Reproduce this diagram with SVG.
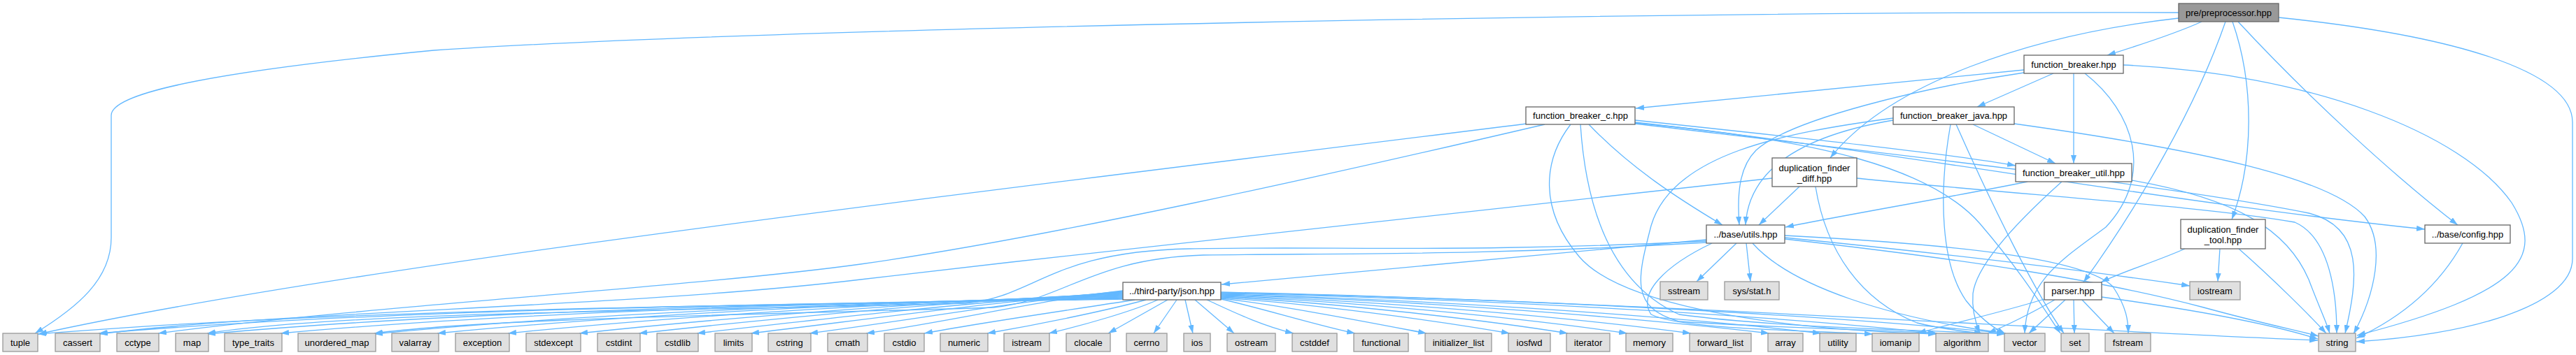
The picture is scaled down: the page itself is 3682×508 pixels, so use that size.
<svg xmlns="http://www.w3.org/2000/svg" width="3682" height="508" viewBox="0 0 3682 508">
<style>
.e{fill:none;stroke:#63b8ff;stroke-width:1.3;marker-end:url(#a)}
.n rect{fill:#ffffff;stroke:#666666;stroke-width:1.3}
.l rect{fill:#e0e0e0;stroke:#999999;stroke-width:1.3}
.r rect{fill:#999999;stroke:#666666;stroke-width:1.3}
text{font-family:"Liberation Sans",Arial,Helvetica,sans-serif;font-size:13px;fill:#000;text-anchor:middle}
</style>
<defs>
<marker id="a" viewBox="0 0 12 8" refX="12" refY="4" markerWidth="12" markerHeight="8" markerUnits="userSpaceOnUse" orient="auto"><path d="M0,0L12,4L0,8z" fill="#63b8ff"/></marker>
</defs>
<rect width="3682" height="508" fill="#ffffff"/>
<g id="edges">
<path class="e" d="M3147,31 C3110,48 3060,64 3012,79"/>
<path class="e" d="M3114,26 C2900,50 2700,120 2616,226"/>
<path class="e" d="M3191,31 C3222,120 3222,230 3190,314"/>
<path class="e" d="M3181,31 C3140,150 3060,290 2978,404"/>
<path class="e" d="M3199,31 C3300,140 3420,250 3513,322"/>
<path class="e" d="M3257,25 C3500,50 3677,100 3677,175 L3677,370 C3677,440 3520,480 3368,489"/>
<path class="e" d="M3114,18 C2400,16 1100,40 620,72 C330,100 159,130 159,165 L159,340 C159,400 110,440 50,477"/>
<path class="e" d="M2893,100 L2338,155"/>
<path class="e" d="M2935,105 L2826,153"/>
<path class="e" d="M2964,105 L2964,234"/>
<path class="e" d="M2893,104 C2750,125 2560,170 2510,215 C2485,240 2483,280 2486,322"/>
<path class="e" d="M2980,105 C3050,160 3080,250 3010,325 C2950,370 2897,400 2894,477"/>
<path class="e" d="M3035,93 C3300,105 3520,190 3590,290 C3640,370 3600,420 3369,480"/>
<path class="e" d="M2337,172 C2600,200 2800,222 2881,237"/>
<path class="e" d="M2271,178 C2330,240 2400,285 2462,322"/>
<path class="e" d="M2337,175 C2700,215 3100,290 3466,328"/>
<path class="e" d="M2337,177 C2700,220 3100,265 3300,305 C3380,325 3370,400 3352,477"/>
<path class="e" d="M2182,177 C1400,275 500,380 55,478"/>
<path class="e" d="M2208,178 C1900,250 1500,340 1230,378 C1000,410 500,440 226,477"/>
<path class="e" d="M2245,178 C2205,230 2200,300 2257,367 C2310,430 2500,470 2768,478"/>
<path class="e" d="M2259,178 C2265,270 2290,400 2400,450 C2550,470 2750,472 2866,478"/>
<path class="e" d="M2337,176 C2600,200 2760,240 2830,320 C2890,390 2920,440 2945,477"/>
<path class="e" d="M2820,178 L2938,234"/>
<path class="e" d="M2706,172 C2600,190 2500,230 2495,322"/>
<path class="e" d="M2879,177 C3150,215 3330,255 3380,310 C3410,350 3395,420 3364,478"/>
<path class="e" d="M2706,169 C2550,190 2390,220 2360,323 C2340,400 2330,440 2400,460 C2550,470 2700,472 2768,477"/>
<path class="e" d="M2788,178 C2770,280 2775,380 2810,430 C2830,455 2850,470 2867,478"/>
<path class="e" d="M2796,178 C2850,300 2910,420 2950,477"/>
<path class="e" d="M2572,267 L2514,322"/>
<path class="e" d="M2654,255 C2900,280 3150,295 3280,318 C3330,340 3340,420 3340,477"/>
<path class="e" d="M2533,255 C2200,290 1700,345 1230,400 C900,440 400,445 142,478"/>
<path class="e" d="M2595,267 C2610,360 2660,430 2740,462 C2780,472 2815,475 2834,477"/>
<path class="e" d="M2898,260 C2800,280 2650,305 2552,325"/>
<path class="e" d="M2947,260 C2880,320 2825,380 2820,420 C2818,445 2825,465 2830,477"/>
<path class="e" d="M3047,258 C3200,285 3270,330 3300,400 C3315,440 3325,460 3330,477"/>
<path class="e" d="M2439,343 C2200,365 1900,392 1746,407"/>
<path class="e" d="M2482,348 L2425,403"/>
<path class="e" d="M2496,348 L2502,403"/>
<path class="e" d="M2551,340 C2800,365 3000,390 3130,409"/>
<path class="e" d="M2551,337 C2800,350 2980,370 3020,410 C3040,440 3042,460 3042,477"/>
<path class="e" d="M2551,342 C2800,370 3000,400 3150,440 C3230,462 3280,472 3314,481"/>
<path class="e" d="M2505,348 C2560,410 2700,455 2866,477"/>
<path class="e" d="M2447,348 C2380,380 2340,420 2360,450 C2400,470 2550,472 2677,478"/>
<path class="e" d="M2439,345 C2100,362 1900,352 1700,356 C1500,360 1480,425 1380,434 C1000,445 500,445 296,477"/>
<path class="e" d="M2439,347 C2100,367 1900,362 1720,365 C1560,370 1520,430 1420,440 C1100,450 700,455 535,477"/>
<path class="e" d="M3123,356 C3080,375 3030,390 3003,404"/>
<path class="e" d="M3173,356 L3170,403"/>
<path class="e" d="M3200,356 C3250,400 3300,450 3325,477"/>
<path class="e" d="M3520,348 C3480,420 3420,460 3368,484"/>
<path class="e" d="M2922,428 C2850,450 2780,465 2741,477"/>
<path class="e" d="M2937,429 C2900,450 2870,465 2841,477"/>
<path class="e" d="M2952,429 L2900,477"/>
<path class="e" d="M2964,429 L2965,477"/>
<path class="e" d="M2976,429 L3022,477"/>
<path class="e" d="M3004,425 C3150,445 3250,465 3313,485"/>
<path class="e" d="M1605,428 C1140,436 520,440 54,478"/>
<path class="e" d="M1605,427 C1166,435 580,440 141,477"/>
<path class="e" d="M1605,426 C1212,434 690,442 296,478"/>
<path class="e" d="M1605,425 C1244,433 760,444 401,477"/>
<path class="e" d="M1605,424 C1284,432 856,446 535,478"/>
<path class="e" d="M1605,423 C1311,431 919,448 625,477"/>
<path class="e" d="M1605,422 C1341,430 990,450 726,477"/>
<path class="e" d="M1605,421 C1372,429 1061,452 828,477"/>
<path class="e" d="M1605,420 C1397,428 1121,454 913,477"/>
<path class="e" d="M1605,419 C1422,428 1179,456 996,477"/>
<path class="e" d="M1605,418 C1445,428 1233,458 1073,477"/>
<path class="e" d="M1605,417 C1471,428 1291,460 1157,477"/>
<path class="e" d="M1605,416 C1495,428 1348,462 1238,477"/>
<path class="e" d="M1622,429 C1520,445 1400,462 1321,477"/>
<path class="e" d="M1638,429 C1580,445 1480,465 1411,477"/>
<path class="e" d="M1655,429 C1620,445 1550,465 1499,477"/>
<path class="e" d="M1669,429 L1584,477"/>
<path class="e" d="M1682,429 L1649,477"/>
<path class="e" d="M1694,429 L1705,477"/>
<path class="e" d="M1708,429 L1764,477"/>
<path class="e" d="M1725,429 C1760,445 1800,465 1849,477"/>
<path class="e" d="M1745,428 C1800,440 1880,465 1937,477"/>
<path class="e" d="M1745,427 C1833,437 1960,462 2039,477"/>
<path class="e" d="M1745,426 C1869,434 2050,458 2158,477"/>
<path class="e" d="M1745,425 C1894,432 2110,456 2241,477"/>
<path class="e" d="M1745,424 C1919,430 2170,454 2326,477"/>
<path class="e" d="M1745,423 C1947,429 2230,452 2417,477"/>
<path class="e" d="M1745,422 C1980,428 2300,450 2529,477"/>
<path class="e" d="M1745,421 C2002,427 2350,448 2603,477"/>
<path class="e" d="M1745,420 C2052,426 2480,446 2769,477"/>
<path class="e" d="M1745,419 C2081,425 2550,445 2867,477"/>
<path class="e" d="M1745,418 C2300,430 2900,470 3313,487"/>
</g>
<g id="node-root" class="r"><rect x="3114" y="5" width="143" height="26"/><text x="3185.5" y="22.5">pre/preprocessor.hpp</text></g>
<g id="node-function_breaker" class="n"><rect x="2893" y="79" width="142" height="26"/><text x="2964" y="96.5">function_breaker.hpp</text></g>
<g id="node-function_breaker_c" class="n"><rect x="2181" y="153" width="156" height="25"/><text x="2259" y="170">function_breaker_c.hpp</text></g>
<g id="node-function_breaker_java" class="n"><rect x="2706" y="153" width="173" height="25"/><text x="2792.5" y="170">function_breaker_java.hpp</text></g>
<g id="node-duplication_finder_diff" class="n"><rect x="2533" y="226" width="121" height="41"/><text x="2593.5" y="244.5">duplication_finder</text><text x="2593.5" y="259.5">_diff.hpp</text></g>
<g id="node-function_breaker_util" class="n"><rect x="2881" y="234" width="166" height="26"/><text x="2964" y="251.5">function_breaker_util.hpp</text></g>
<g id="node-utils" class="n"><rect x="2439" y="322" width="112" height="26"/><text x="2495" y="339.5">../base/utils.hpp</text></g>
<g id="node-config" class="n"><rect x="3466" y="322" width="122" height="26"/><text x="3527" y="339.5">../base/config.hpp</text></g>
<g id="node-duplication_finder_tool" class="n"><rect x="3117" y="314" width="121" height="42"/><text x="3177.5" y="332.5">duplication_finder</text><text x="3177.5" y="347.5">_tool.hpp</text></g>
<g id="node-json" class="n"><rect x="1605" y="404" width="140" height="25"/><text x="1675" y="421">../third-party/json.hpp</text></g>
<g id="node-parser" class="n"><rect x="2922" y="404" width="82" height="25"/><text x="2963" y="421">parser.hpp</text></g>
<g id="node-sstream" class="l"><rect x="2373" y="403" width="68" height="26"/><text x="2407" y="420.5">sstream</text></g>
<g id="node-sys_stat" class="l"><rect x="2465" y="403" width="78" height="26"/><text x="2504" y="420.5">sys/stat.h</text></g>
<g id="node-iostream" class="l"><rect x="3130" y="403" width="72" height="26"/><text x="3166" y="420.5">iostream</text></g>
<g id="node-tuple" class="l"><rect x="4" y="477" width="50" height="26"/><text x="29" y="494.5">tuple</text></g>
<g id="node-cassert" class="l"><rect x="79" y="477" width="64" height="26"/><text x="111" y="494.5">cassert</text></g>
<g id="node-cctype" class="l"><rect x="167" y="477" width="60" height="26"/><text x="197" y="494.5">cctype</text></g>
<g id="node-map" class="l"><rect x="251" y="477" width="47" height="26"/><text x="274.5" y="494.5">map</text></g>
<g id="node-type_traits" class="l"><rect x="321" y="477" width="82" height="26"/><text x="362" y="494.5">type_traits</text></g>
<g id="node-unordered_map" class="l"><rect x="426" y="477" width="111" height="26"/><text x="481.5" y="494.5">unordered_map</text></g>
<g id="node-valarray" class="l"><rect x="560" y="477" width="67" height="26"/><text x="593.5" y="494.5">valarray</text></g>
<g id="node-exception" class="l"><rect x="651" y="477" width="77" height="26"/><text x="689.5" y="494.5">exception</text></g>
<g id="node-stdexcept" class="l"><rect x="752" y="477" width="78" height="26"/><text x="791" y="494.5">stdexcept</text></g>
<g id="node-cstdint" class="l"><rect x="854" y="477" width="61" height="26"/><text x="884.5" y="494.5">cstdint</text></g>
<g id="node-cstdlib" class="l"><rect x="939" y="477" width="59" height="26"/><text x="968.5" y="494.5">cstdlib</text></g>
<g id="node-limits" class="l"><rect x="1022" y="477" width="53" height="26"/><text x="1048.5" y="494.5">limits</text></g>
<g id="node-cstring" class="l"><rect x="1098" y="477" width="61" height="26"/><text x="1128.5" y="494.5">cstring</text></g>
<g id="node-cmath" class="l"><rect x="1183" y="477" width="57" height="26"/><text x="1211.5" y="494.5">cmath</text></g>
<g id="node-cstdio" class="l"><rect x="1264" y="477" width="57" height="26"/><text x="1292.5" y="494.5">cstdio</text></g>
<g id="node-numeric" class="l"><rect x="1344" y="477" width="68" height="26"/><text x="1378" y="494.5">numeric</text></g>
<g id="node-istream" class="l"><rect x="1435" y="477" width="65" height="26"/><text x="1467.5" y="494.5">istream</text></g>
<g id="node-clocale" class="l"><rect x="1524" y="477" width="63" height="26"/><text x="1555.5" y="494.5">clocale</text></g>
<g id="node-cerrno" class="l"><rect x="1610" y="477" width="58" height="26"/><text x="1639" y="494.5">cerrno</text></g>
<g id="node-ios" class="l"><rect x="1692" y="477" width="38" height="26"/><text x="1711" y="494.5">ios</text></g>
<g id="node-ostream" class="l"><rect x="1754" y="477" width="69" height="26"/><text x="1788.5" y="494.5">ostream</text></g>
<g id="node-cstddef" class="l"><rect x="1847" y="477" width="64" height="26"/><text x="1879" y="494.5">cstddef</text></g>
<g id="node-functional" class="l"><rect x="1935" y="477" width="78" height="26"/><text x="1974" y="494.5">functional</text></g>
<g id="node-initializer_list" class="l"><rect x="2037" y="477" width="95" height="26"/><text x="2084.5" y="494.5">initializer_list</text></g>
<g id="node-iosfwd" class="l"><rect x="2156" y="477" width="60" height="26"/><text x="2186" y="494.5">iosfwd</text></g>
<g id="node-iterator" class="l"><rect x="2239" y="477" width="62" height="26"/><text x="2270" y="494.5">iterator</text></g>
<g id="node-memory" class="l"><rect x="2324" y="477" width="67" height="26"/><text x="2357.5" y="494.5">memory</text></g>
<g id="node-forward_list" class="l"><rect x="2415" y="477" width="88" height="26"/><text x="2459" y="494.5">forward_list</text></g>
<g id="node-array" class="l"><rect x="2527" y="477" width="50" height="26"/><text x="2552" y="494.5">array</text></g>
<g id="node-utility" class="l"><rect x="2601" y="477" width="52" height="26"/><text x="2627" y="494.5">utility</text></g>
<g id="node-iomanip" class="l"><rect x="2676" y="477" width="67" height="26"/><text x="2709.5" y="494.5">iomanip</text></g>
<g id="node-algorithm" class="l"><rect x="2767" y="477" width="75" height="26"/><text x="2804.5" y="494.5">algorithm</text></g>
<g id="node-vector" class="l"><rect x="2865" y="477" width="58" height="26"/><text x="2894" y="494.5">vector</text></g>
<g id="node-set" class="l"><rect x="2946" y="477" width="40" height="26"/><text x="2966" y="494.5">set</text></g>
<g id="node-fstream" class="l"><rect x="3009" y="477" width="65" height="26"/><text x="3041.5" y="494.5">fstream</text></g>
<g id="node-string" class="l"><rect x="3314" y="477" width="53" height="26"/><text x="3340.5" y="494.5">string</text></g>
</svg>
